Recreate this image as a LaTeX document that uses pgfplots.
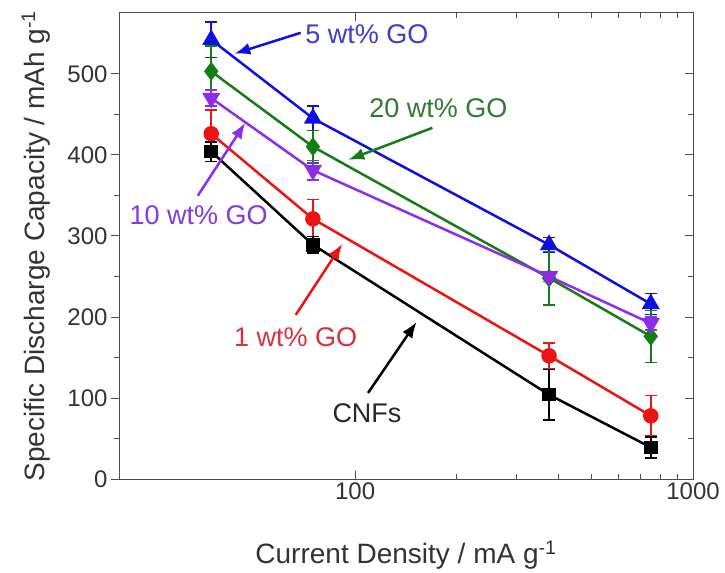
\documentclass[border=0pt]{standalone}
\usepackage{pgfplots}
\pgfplotsset{compat=1.18}
\usepackage{pgfplotstable}
\usepackage{fontspec}
\setmainfont{Liberation Sans}
\usetikzlibrary{arrows.meta}
\definecolor{cblue}{RGB}{15,15,225}
\definecolor{cgreen}{RGB}{20,125,20}
\definecolor{cpurple}{RGB}{140,45,235}
\definecolor{cred}{RGB}{235,20,20}
\definecolor{tblue}{RGB}{60,60,205}
\definecolor{tgreen}{RGB}{50,120,50}
\definecolor{tpurple}{RGB}{130,60,220}
\definecolor{tred}{RGB}{215,50,60}
\definecolor{tblack}{RGB}{40,40,40}

\pgfplotstableread{
x y e
37.5 542 22
75 445 15
375 289 9
750 216 13
}\tblblue
\pgfplotstableread{
x y e
37.5 503 31
75 410 20
375 248 33
750 176 32
}\tblgreen
\pgfplotstableread{
x y e
37.5 470 10
75 381 12
375 250 6
750 192 8
}\tblpurple
\pgfplotstableread{
x y e
37.5 426 29
75 321 24
375 152 16
750 78 25
}\tblred
\pgfplotstableread{
x y e
37.5 404 12
75 289 10
375 104 31
750 39 13
}\tblblack

\begin{document}
\begin{tikzpicture}
\begin{axis}[
  scale only axis, width=574pt, height=466pt,
  at={(0pt,0pt)}, anchor=south west,
  xmode=log, xmin=20, xmax=1000,
  ymin=0, ymax=575,
  major tick length=8pt, minor tick length=5pt,
  every tick/.style={line width=0.8pt, color=black!70},
  axis line style={line width=1pt, color=black!70},
  tick label style={font=\fontsize{24}{28}\selectfont, text=black!80},
  label style={font=\fontsize{28}{32}\selectfont, text=black!80},
  tick align=inside,
  xtick={100,1000}, xticklabels={100,1000},
  xtick pos=both,
  ytick pos=right,
  ytick={0,100,200,300,400,500}, minor y tick num=1,
  yticklabels={},
  xlabel={Current Density / mA g\textsuperscript{-1}},
  xlabel style={at={(axis description cs:0.5,-0.163)}, anchor=center},
  clip=false,
]
\addplot[cblue, line width=2.5pt, mark=triangle*, mark size=8pt,
  error bars/.cd, y dir=both, y explicit, error mark=-,
  error bar style={line width=1.5pt}, error mark options={rotate=90, mark size=6pt, line width=1.5pt}]
  table[x=x, y=y, y error=e] {\tblblue};
\addplot[cgreen, line width=2.5pt, mark=diamond*, mark size=7.5pt,
  error bars/.cd, y dir=both, y explicit, error mark=-,
  error bar style={line width=1.5pt}, error mark options={rotate=90, mark size=6pt, line width=1.5pt}]
  table[x=x, y=y, y error=e] {\tblgreen};
\addplot[cpurple, line width=2.5pt, mark=triangle*, mark size=8pt, mark options={rotate=180},
  error bars/.cd, y dir=both, y explicit, error mark=-,
  error bar style={line width=1.5pt}, error mark options={rotate=90, mark size=6pt, line width=1.5pt}]
  table[x=x, y=y, y error=e] {\tblpurple};
\addplot[cred, line width=2.5pt, mark=*, mark size=6.5pt,
  error bars/.cd, y dir=both, y explicit, error mark=-,
  error bar style={line width=1.5pt}, error mark options={rotate=90, mark size=6pt, line width=1.5pt}]
  table[x=x, y=y, y error=e] {\tblred};
\addplot[black, line width=2.5pt, mark=square*, mark size=5.5pt,
  error bars/.cd, y dir=both, y explicit, error mark=-,
  error bar style={line width=1.5pt}, error mark options={rotate=90, mark size=6pt, line width=1.5pt}]
  table[x=x, y=y, y error=e] {\tblblack};

\node[text=tblue, font=\fontsize{27}{30}\selectfont] at (axis cs:108.4,549) {5 wt\% GO};
\draw[cblue, line width=2.5pt, -{Latex[length=16pt,width=12pt]}] (axis cs:69.0,550.6) -- (axis cs:43.9,524.7);
\node[text=tgreen, font=\fontsize{27}{30}\selectfont] at (axis cs:176.3,458) {20 wt\% GO};
\draw[cgreen, line width=2.5pt, -{Latex[length=16pt,width=12pt]}] (axis cs:169.3,433.3) -- (axis cs:95.4,393.8);
\node[text=tpurple, font=\fontsize{27}{30}\selectfont] at (axis cs:34.4,325.9) {10 wt\% GO};
\draw[cpurple, line width=2.5pt, -{Latex[length=16pt,width=12pt]}] (axis cs:34.2,349.4) -- (axis cs:47.3,439.5);
\node[text=tred, font=\fontsize{27}{30}\selectfont] at (axis cs:66.7,175.3) {1 wt\% GO};
\draw[cred, line width=2.5pt, -{Latex[length=16pt,width=12pt]}] (axis cs:66.7,202.5) -- (axis cs:91.6,290.1);
\node[text=tblack, font=\fontsize{27}{30}\selectfont] at (axis cs:108.4,81.5) {CNFs};
\draw[black, line width=2.5pt, -{Latex[length=16pt,width=12pt]}] (axis cs:109.2,106.2) -- (axis cs:152.0,193.8);
\end{axis}
\begin{axis}[
  scale only axis, width=574pt, height=466pt,
  at={(0pt,0pt)}, anchor=south west,
  xmode=log, xmin=20, xmax=1000,
  ymin=0, ymax=575,
  major tick length=8pt, minor tick length=5pt,
  every tick/.style={line width=0.8pt, color=black!70},
  axis line style={line width=1pt, color=black!70},
  /pgf/number format/assume math mode=true,
  tick label style={font=\fontsize{24}{28}\selectfont, text=black!80},
  label style={font=\fontsize{28}{32}\selectfont, text=black!80},
  axis x line=none,
  axis y line*=left,
  tick align=outside,
  ytick={0,100,200,300,400,500}, minor y tick num=1,
  ylabel={Specific Discharge Capacity / mAh g\textsuperscript{-1}},
  ylabel style={at={(axis description cs:-0.145,0.5)}, anchor=center},
]
\addplot[draw=none] coordinates {(100,0)};
\end{axis}
\path (-119pt,-92pt) rectangle (606pt,479pt);
\end{tikzpicture}
\end{document}
